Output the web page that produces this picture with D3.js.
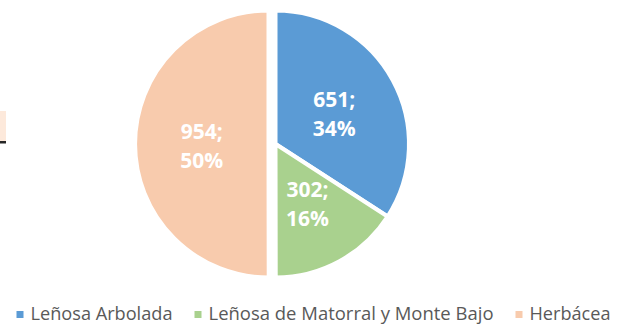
<!DOCTYPE html>
<html>
<head>
<meta charset="utf-8">
<script src="https://cdn.jsdelivr.net/npm/d3@7/dist/d3.min.js"></script>
<style>
  html, body { margin: 0; padding: 0; background: #ffffff; }
  svg { display: block; }
</style>
</head>
<body>
<svg id="chart" width="617" height="325"></svg>
<script>
// Land cover areas by category
const categories = ["Leñosa Arbolada", "Leñosa de Matorral y Monte Bajo", "Herbácea"];
const values = [651, 302, 954];
const sliceColors = ["#5B9BD5", "#A9D18E", "#F8CBAD"];
const explodeBy = [0, 0, 7];

const W = 617, H = 325;
const cx = 275.5, cy = 144, r = 133.5;

const svg = d3.select("#chart");

// leftover cell fragment at the left edge
svg.append("rect").attr("x", 0).attr("y", 111).attr("width", 6).attr("height", 30)
  .attr("fill", "#FDE9DB");
svg.append("rect").attr("x", 0).attr("y", 141).attr("width", 6).attr("height", 2.5)
  .attr("fill", "#262626");

const total = d3.sum(values);
const pie = d3.pie().sort(null).value(d => d.value);
const arcs = pie(categories.map((c, i) => ({ name: c, value: values[i], i })));

const arc = d3.arc().innerRadius(0).outerRadius(r);
const labelArc = d3.arc().innerRadius(r * 0.5).outerRadius(r * 0.5);

const g = svg.append("g").attr("transform", `translate(${cx},${cy})`);

const slices = g.selectAll("g.slice").data(arcs).join("g")
  .attr("class", "slice")
  .attr("transform", d => {
    const mid = (d.startAngle + d.endAngle) / 2;
    const e = explodeBy[d.data.i];
    return `translate(${e * Math.sin(mid)},${-e * Math.cos(mid)})`;
  });

slices.append("path")
  .attr("d", arc)
  .attr("fill", d => sliceColors[d.data.i])
  .attr("stroke", "#ffffff")
  .attr("stroke-width", 4)
  .attr("stroke-linejoin", "round");

const fmtPct = v => Math.round(v / total * 100) + "%";

const labels = slices.append("text")
  .attr("transform", d => { const [x, y] = labelArc.centroid(d); return `translate(${x},${y})`; })
  .attr("text-anchor", "middle")
  .attr("fill", "#ffffff")
  .style("font-family", "'Open Sans', sans-serif")
  .style("font-weight", "700")
  .style("font-size", "21px");

labels.append("tspan").attr("x", 0).attr("y", -5.5).text(d => d.data.value + ";");
labels.append("tspan").attr("x", 0).attr("y", 23.5).text(d => fmtPct(d.data.value));

// Legend
const legendTextX = [30.5, 208.5, 529.5];
const legendTextW = [142, 285, 81];
const legendBaseline = 319.5;

const legend = svg.append("g").selectAll("g").data(categories).join("g");
legend.append("rect")
  .attr("x", (d, i) => legendTextX[i] - 14)
  .attr("y", legendBaseline - 8.5)
  .attr("width", 7).attr("height", 7)
  .attr("fill", (d, i) => sliceColors[i]);
legend.append("text")
  .attr("x", (d, i) => legendTextX[i])
  .attr("y", legendBaseline)
  .attr("textLength", (d, i) => legendTextW[i])
  .attr("lengthAdjust", "spacingAndGlyphs")
  .attr("fill", "#595959")
  .style("font-family", "'Open Sans', sans-serif")
  .style("font-size", "19px")
  .text(d => d);
</script>
</body>
</html>
